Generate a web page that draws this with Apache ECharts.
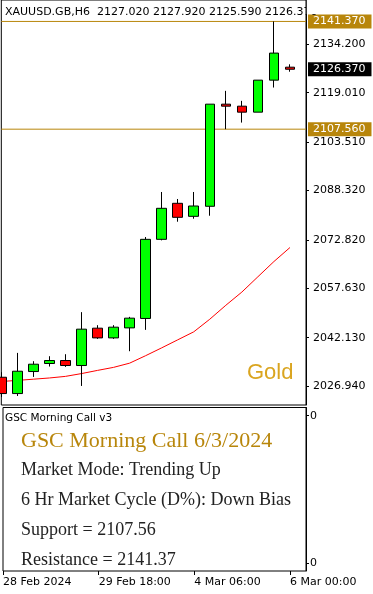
<!DOCTYPE html>
<html>
<head>
<meta charset="utf-8">
<script src="https://cdn.jsdelivr.net/npm/echarts@6/dist/echarts.min.js"></script>
<style>
html,body{margin:0;padding:0;background:#fff;}
#chart{width:373px;height:594px;}
</style>
</head>
<body>
<div id="chart"></div>
<script>
// ---- data ----
const symbolName = 'XAUUSD.GB';
const timeframe = 'H6';
const categories = ['28 Feb 2024','28 Feb 12:00','28 Feb 18:00','29 Feb 00:00','29 Feb 06:00','29 Feb 12:00',
  '29 Feb 18:00','1 Mar 00:00','1 Mar 06:00','1 Mar 12:00','1 Mar 18:00','4 Mar 00:00',
  '4 Mar 06:00','4 Mar 12:00','4 Mar 18:00','5 Mar 00:00','5 Mar 06:00','5 Mar 12:00','6 Mar 00:00',''];
const opens  = [2029.71,2024.59,2031.50,2034.02,2034.96,2033.39,2045.11,2042.06,2045.20,2048.16,2072.99,2084.30,2080.21,2083.36,2115.41,2114.78,2112.90,2122.95,2127.02];
const closes = [2024.59,2031.60,2033.80,2034.96,2033.39,2044.80,2042.06,2045.42,2048.25,2072.99,2082.73,2079.90,2083.45,2115.41,2114.78,2112.90,2122.95,2131.44,2126.37];
const lows   = [2023.52,2023.83,2029.81,2033.07,2032.95,2026.98,2041.75,2041.75,2037.88,2044.58,2072.67,2078.52,2079.46,2080.40,2107.56,2109.63,2112.90,2120.63,2125.59];
const highs  = [2031.28,2037.35,2034.74,2036.31,2036.94,2050.14,2046.05,2046.05,2048.66,2073.71,2087.85,2085.65,2087.85,2115.41,2119.59,2116.45,2122.95,2141.37,2127.92];
const maValues = [2028.38,2028.72,2029.10,2029.48,2029.98,2030.86,2031.86,2032.81,2034.13,2036.48,2038.93,2041.45,2043.96,2047.92,2052.29,2056.44,2061.24,2066.02,2070.42];
const yTickValues = [2134.20,2119.01,2103.51,2088.32,2072.82,2057.63,2042.13,2026.94];
const xLabelIndices = [0,6,12,18];
const resistance = 2141.37;
const support = 2107.56;
const instrumentLabel = 'Gold';
const indicatorName = 'GSC Morning Call v3';
const reportTitle = 'GSC Morning Call 6/3/2024';
const reportLines = ['Market Mode: Trending Up','6 Hr Market Cycle (D%): Down Bias',
  'Support = ' + support.toFixed(2),'Resistance = ' + resistance.toFixed(2)];
const subTickValues = [0.05, 0.95];

// ---- build ----
const last = opens.length - 1;
const lastIdx = categories.length - 1;
const candleData = opens.map((o,i)=>[o, closes[i], lows[i], highs[i]]);
const headerText = symbolName + ',' + timeframe + '  ' +
  [opens[last], highs[last], lows[last], closes[last]].map(v=>v.toFixed(3)).join(' ');

const GOLD = '#B8860B';
const AX_FONT = 'DejaVu Sans';
const showIdx = (idx)=> xLabelIndices.indexOf(idx) >= 0;

// price scale: resistance/support land on pixel centres for crisp 1px lines
const PX_TOP = -1, PX_H = 406, Y_RES = 20.5, Y_SUP = 128.5;
const pxPerUnit = (Y_SUP - Y_RES) / (resistance - support);
const yMax = resistance + (Y_RES - PX_TOP) / pxPerUnit;
const yMin = yMax - PX_H / pxPerUnit;

const lblBox = (bg)=>({show:true, position:'end', distance:2, formatter:(p)=>Number(p.value).toFixed(3),
  color:'#fff', backgroundColor:bg, padding:[2,6,1,5], fontFamily:AX_FONT, fontSize:11, lineHeight:11});
const HIDDEN_LINE = {color:'rgba(0,0,0,0)', width:1, type:'solid'};

function txt(x, y, text, font, fill){
  return {type:'text', x:x, y:y, z:100, silent:true,
    style:{text:text, font:font, fill:fill, textAlign:'left', align:'left',
      textVerticalAlign:'middle', verticalAlign:'middle'}};
}
function levelSeries(val){
  return {type:'line', xAxisIndex:0, yAxisIndex:0, data:[[0, val],[lastIdx, val]],
    showSymbol:false, symbol:'none', silent:true, clip:false, z:1,
    lineStyle:{color:GOLD, width:1, type:'solid'}, itemStyle:{color:GOLD}};
}

const chart = echarts.init(document.getElementById('chart'), null, {renderer:'canvas'});
const option = {
  animation:false,
  backgroundColor:'#fff',
  grid:[
    {left:1.3, right:67, top:PX_TOP, height:PX_H, show:true, borderColor:'#000', borderWidth:1, backgroundColor:'#fff'},
    {left:1.3, right:67, top:407.5, height:163.5, show:true, borderColor:'#000', borderWidth:1, backgroundColor:'#fff'}
  ],
  xAxis:[
    {type:'category', gridIndex:0, data:categories, boundaryGap:false, show:false},
    {type:'category', gridIndex:1, data:categories, boundaryGap:false,
      axisLine:{show:false},
      axisTick:{show:true, interval:showIdx, length:4, lineStyle:{color:'#000'}},
      axisLabel:{show:true, interval:showIdx, align:'left', margin:6, color:'#000',
        fontFamily:AX_FONT, fontSize:11},
      splitLine:{show:false}}
  ],
  yAxis:[
    {type:'value', gridIndex:0, position:'right', min:yMin, max:yMax, scale:true,
      axisLine:{show:true, lineStyle:{color:'#000'}},
      axisTick:{show:true, inside:false, length:3, customValues:yTickValues, lineStyle:{color:'#000'}},
      axisLabel:{show:true, customValues:yTickValues, formatter:(v)=>Number(v).toFixed(3),
        margin:7, color:'#000', fontFamily:AX_FONT, fontSize:11},
      splitLine:{show:false}},
    {type:'value', gridIndex:1, position:'right', min:0, max:1,
      axisLine:{show:true, lineStyle:{color:'#000'}},
      axisTick:{show:true, length:3, customValues:subTickValues, lineStyle:{color:'#000'}},
      axisLabel:{show:true, customValues:subTickValues, formatter:()=> '0', margin:4,
        color:'#000', fontFamily:AX_FONT, fontSize:11},
      splitLine:{show:false}}
  ],
  series:[
    levelSeries(resistance),
    levelSeries(support),
    {type:'line', xAxisIndex:0, yAxisIndex:0, data:maValues, showSymbol:false, symbol:'none',
      lineStyle:{color:'#FF0000', width:1}, itemStyle:{color:'#FF0000'}, z:2},
    {type:'candlestick', xAxisIndex:0, yAxisIndex:0, data:candleData, barWidth:10, clip:true, z:3,
      itemStyle:{color:'#00FF00', color0:'#FF0000', borderColor:'#000', borderColor0:'#000', borderWidth:1},
      markLine:{symbol:['none','none'], silent:true, animation:false,
        lineStyle:HIDDEN_LINE,
        emphasis:{disabled:true},
        data:[
          {yAxis:resistance, lineStyle:HIDDEN_LINE, label:lblBox(GOLD)},
          {yAxis:support, lineStyle:HIDDEN_LINE, label:lblBox(GOLD)},
          {yAxis:closes[last], lineStyle:HIDDEN_LINE, label:lblBox('#000')}
        ]}
    }
  ],
  graphic:[
    txt(5, 12, headerText, '11px "DejaVu Sans"', '#000'),
    {type:'rect', z:101, silent:true, shape:{x:306.8, y:0, width:70, height:14}, style:{fill:'#fff'}},
    txt(247, 373, instrumentLabel, '22px "Liberation Sans"', '#DAA520'),
    txt(5, 418, indicatorName, '10.5px "DejaVu Sans"', '#000'),
    txt(21, 441.6, reportTitle, '22px "Liberation Serif"', GOLD),
    txt(21, 470.6, reportLines[0], '18px "Liberation Serif"', '#222'),
    txt(21, 499.9, reportLines[1], '18px "Liberation Serif"', '#222'),
    txt(21, 529.9, reportLines[2], '18px "Liberation Serif"', '#222'),
    txt(21, 559.9, reportLines[3], '18px "Liberation Serif"', '#222')
  ]
};
chart.setOption(option);
</script>
</body>
</html>
